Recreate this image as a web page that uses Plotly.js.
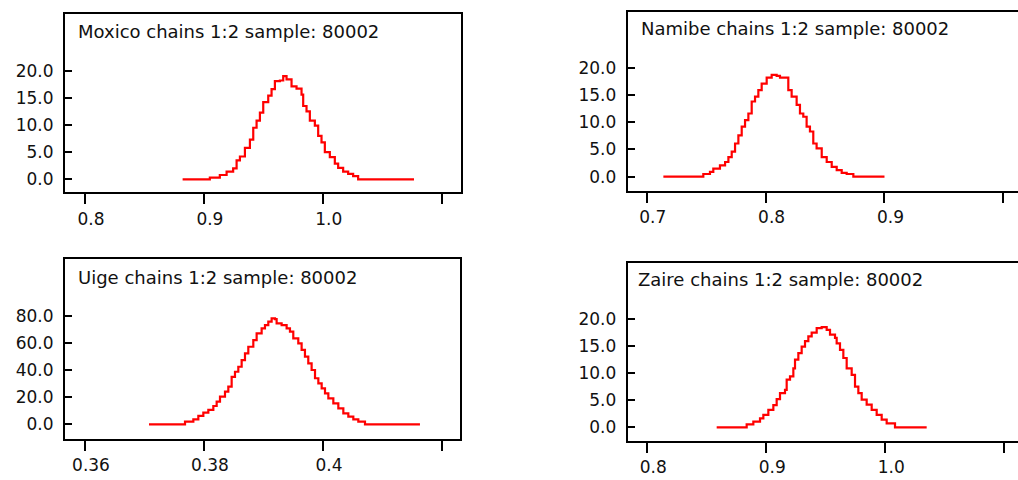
<!DOCTYPE html>
<html>
<head>
<meta charset="utf-8">
<script src="https://cdn.plot.ly/plotly-3.0.1.min.js"></script>
<style>
html, body { margin: 0; padding: 0; overflow: hidden; background: #fff; }
#chart { width: 1018px; height: 480px; }
</style>
</head>
<body>
<div id="chart"></div>
<script>
// ---- data ----
var panelTitles = [
  "Moxico chains 1:2 sample: 80002",
  "Namibe chains 1:2 sample: 80002",
  "Uige chains 1:2 sample: 80002",
  "Zaire chains 1:2 sample: 80002"
];

var moxicoX = [0.8821, 0.9050, 0.9134, 0.9191, 0.9246, 0.9275, 0.9303, 0.9345, 0.9387, 0.9415, 0.9443, 0.9471, 0.9499, 0.9541, 0.9569, 0.9597, 0.9639, 0.9667, 0.9695, 0.9737, 0.9779, 0.9821, 0.9835, 0.9863, 0.9891, 0.9933, 0.9961, 0.9989, 1.0017, 1.0059, 1.0101, 1.0129, 1.0171, 1.0213, 1.0255, 1.0297, 1.0767];
var moxicoY = [0.0, 0.3, 0.8, 1.4, 2.0, 3.5, 4.2, 5.8, 7.3, 9.5, 10.8, 12.3, 14.2, 15.4, 16.6, 18.1, 18.2, 19.0, 18.4, 17.1, 16.7, 15.6, 13.5, 12.5, 10.8, 9.9, 8.0, 6.8, 5.0, 4.1, 2.9, 2.1, 1.4, 1.0, 0.6, 0.0, 0.0];

var namibeX = [0.7140, 0.7476, 0.7532, 0.7560, 0.7616, 0.7659, 0.7687, 0.7715, 0.7743, 0.7771, 0.7799, 0.7827, 0.7855, 0.7883, 0.7911, 0.7939, 0.7967, 0.8009, 0.8051, 0.8093, 0.8121, 0.8177, 0.8191, 0.8219, 0.8261, 0.8289, 0.8317, 0.8345, 0.8373, 0.8401, 0.8429, 0.8472, 0.8514, 0.8556, 0.8598, 0.8640, 0.8682, 0.8738, 0.9000];
var namibeY = [0.0, 0.5, 0.9, 1.5, 2.1, 2.7, 3.6, 4.6, 6.1, 7.6, 9.2, 10.4, 11.6, 13.8, 14.7, 15.9, 17.1, 18.2, 18.7, 18.5, 18.2, 18.2, 15.9, 14.7, 13.2, 11.6, 11.0, 9.2, 8.3, 6.1, 5.2, 3.6, 2.7, 1.8, 1.2, 0.7, 0.5, 0.0, 0.0];

var uigeX = [0.37076, 0.37681, 0.37821, 0.37905, 0.37989, 0.38073, 0.38157, 0.38213, 0.38269, 0.38353, 0.38409, 0.38465, 0.38521, 0.38577, 0.38633, 0.38689, 0.38745, 0.38829, 0.38885, 0.38969, 0.39025, 0.39081, 0.39137, 0.39193, 0.39221, 0.39305, 0.39389, 0.39445, 0.39501, 0.39585, 0.39641, 0.39697, 0.39753, 0.39809, 0.39866, 0.39922, 0.39978, 0.40034, 0.40090, 0.40174, 0.40258, 0.40342, 0.40426, 0.40510, 0.40594, 0.40706, 0.41630];
var uigeY = [0.0, 2.0, 3.7, 6.2, 8.6, 10.6, 13.5, 16.7, 20.4, 24.1, 27.8, 35.1, 38.8, 42.5, 47.4, 52.4, 57.3, 62.2, 67.1, 70.8, 73.3, 75.8, 78.2, 77.7, 74.6, 73.3, 70.8, 68.4, 63.5, 59.8, 54.9, 50.0, 45.0, 40.1, 34.0, 30.3, 26.6, 22.9, 19.2, 15.5, 11.8, 8.1, 5.7, 3.7, 2.0, 0.0, 0.0];

var zaireX = [0.85829, 0.88350, 0.88910, 0.89471, 0.89751, 0.90171, 0.90591, 0.90871, 0.91151, 0.91571, 0.91712, 0.91992, 0.92272, 0.92412, 0.92692, 0.92972, 0.93252, 0.93532, 0.93813, 0.94233, 0.94653, 0.95073, 0.95353, 0.95773, 0.95913, 0.96193, 0.96473, 0.96754, 0.97174, 0.97454, 0.97734, 0.98014, 0.98434, 0.98855, 0.99275, 0.99695, 1.00115, 1.00815, 1.03476];
var zaireY = [0.0, 0.55, 1.05, 1.66, 2.28, 3.2, 4.1, 5.2, 6.3, 6.9, 8.8, 9.4, 10.9, 12.5, 13.7, 14.9, 15.9, 16.8, 17.5, 18.3, 18.5, 18.0, 17.1, 16.5, 15.5, 14.3, 12.8, 10.9, 9.7, 7.5, 6.3, 5.1, 4.2, 3.2, 2.3, 1.4, 0.74, 0.0, 0.0];

// tick values / labels
var moxicoTickVals = [0.8, 0.9, 1.0, 1.1];
var moxicoTickText = ["0.8", "0.9", "1.0", ""];
var namibeTickVals = [0.7, 0.8, 0.9, 1.0];
var namibeTickText = ["0.7", "0.8", "0.9", ""];
var uigeTickVals = [0.36, 0.38, 0.40, 0.42];
var uigeTickText = ["0.36", "0.38", "0.4", ""];
var zaireTickVals = [0.8, 0.9, 1.0, 1.1];
var zaireTickText = ["0.8", "0.9", "1.0", ""];

var densityTickVals = [0, 5, 10, 15, 20];
var densityTickText = ["0.0", "5.0", "10.0", "15.0", "20.0"];
var uigeDensityTickVals = [0, 20, 40, 60, 80];
var uigeDensityTickText = ["0.0", "20.0", "40.0", "60.0", "80.0"];

// ---- figure ----
var W = 1018, H = 480;
var FONT = "DejaVu Sans, Verdana, sans-serif";
var TXT = "#111111";

function trace(x, y, xa, ya) {
  return {
    x: x, y: y, xaxis: xa, yaxis: ya,
    type: "scatter", mode: "lines",
    line: { shape: "hv", color: "#ff0000", width: 2.2 },
    hoverinfo: "skip", showlegend: false
  };
}

var data = [
  trace(moxicoX, moxicoY, "x", "y"),
  trace(namibeX, namibeY, "x2", "y2"),
  trace(uigeX, uigeY, "x3", "y3"),
  trace(zaireX, zaireY, "x4", "y4")
];

function xax(domain, range, vals, text, anchor) {
  return {
    domain: domain, range: range, anchor: anchor,
    showgrid: false, zeroline: false,
    showline: true, mirror: true, linecolor: "#000", linewidth: 2,
    ticks: "outside", ticklen: 10, tickwidth: 2, tickcolor: "#000",
    tickmode: "array", tickvals: vals, ticktext: text,
    ticklabelshift: 6,
    tickfont: { family: FONT, size: 17, color: TXT },
    fixedrange: true
  };
}
function yax(domain, range, vals, text, anchor, mirror) {
  return {
    domain: domain, range: range, anchor: anchor,
    showgrid: false, zeroline: false,
    showline: true, mirror: mirror, linecolor: "#000", linewidth: 2,
    ticks: "inside", ticklen: 7, tickwidth: 2, tickcolor: "#000",
    tickmode: "array", tickvals: vals, ticktext: text,
    ticklabelstandoff: 6,
    tickfont: { family: FONT, size: 17, color: TXT },
    fixedrange: true
  };
}

var px = function (v) { return v / W; };
var py = function (v) { return 1 - v / H; };

var layout = {
  width: W, height: H,
  margin: { l: 0, r: 0, t: 0, b: 0 },
  paper_bgcolor: "#ffffff", plot_bgcolor: "#ffffff",
  showlegend: false,
  xaxis:  xax([px(65), px(461)], [0.7832, 1.1162], moxicoTickVals, moxicoTickText, "y"),
  yaxis:  yax([py(192.3), py(14.3)], [-2.39, 30.39], densityTickVals, densityTickText, "x", true),
  xaxis2: xax([px(627.7), 1], [0.684, 1.0123], namibeTickVals, namibeTickText, "y2"),
  yaxis2: yax([py(191), py(11.7)], [-2.62, 30.28], densityTickVals, densityTickText, "x2", false),
  xaxis3: xax([px(65), px(460.3)], [0.35664, 0.42308], uigeTickVals, uigeTickText, "y3"),
  yaxis3: yax([py(439), py(259)], [-10.86, 122.1], uigeDensityTickVals, uigeDensityTickText, "x3", true),
  xaxis4: xax([px(627.7), 1], [0.78353, 1.1115], zaireTickVals, zaireTickText, "y4"),
  yaxis4: yax([py(441), py(262.7)], [-2.53, 30.4], densityTickVals, densityTickText, "x4", false),
  annotations: [
    { text: panelTitles[0], x: px(76), y: py(32), xanchor: "left", yanchor: "middle" },
    { text: panelTitles[1], x: px(639), y: py(28), xanchor: "left", yanchor: "middle" },
    { text: panelTitles[2], x: px(76), y: py(277), xanchor: "left", yanchor: "middle" },
    { text: panelTitles[3], x: px(636), y: py(279), xanchor: "left", yanchor: "middle" }
  ].map(function (a) {
    a.xref = "paper"; a.yref = "paper"; a.showarrow = false;
    a.font = { family: FONT, size: 18, color: TXT };
    return a;
  })
};

Plotly.newPlot("chart", data, layout, { staticPlot: true, displayModeBar: false });
</script>
</body>
</html>
